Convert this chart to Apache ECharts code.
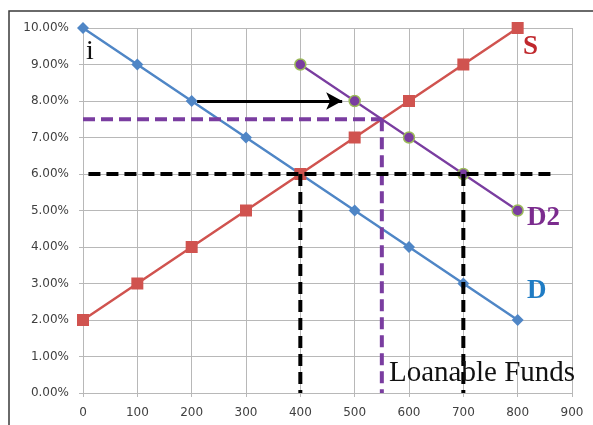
<!DOCTYPE html>
<html>
<head>
<meta charset="utf-8">
<script src="https://cdn.jsdelivr.net/npm/echarts@6/dist/echarts.min.js"></script>
<style>html,body{margin:0;padding:0;background:#fff;}#chart{width:593px;height:425px;}</style>
</head>
<body>
<div id="chart"></div>
<script>
// Data
var dX = [0, 100, 200, 300, 400, 500, 600, 700, 800];
var dY = [10, 9, 8, 7, 6, 5, 4, 3, 2];
var sX = [0, 100, 200, 300, 400, 500, 600, 700, 800];
var sY = [2, 3, 4, 5, 6, 7, 8, 9, 10];
var d2X = [400, 500, 600, 700, 800];
var d2Y = [9, 8, 7, 6, 5];
// Annotation guide lines
var blackH = [[10, 6], [862, 6]];
var blackV1 = [[400, 6], [400, 0]];
var blackV2 = [[700, 6], [700, 0]];
var purpleH = [[0, 7.5], [550, 7.5]];
var purpleV = [[550, 7.5], [550, 0]];
var arrowFrom = [210, 8];
var arrowTo = [477, 8];
var xTicks = [0, 900, 100];
var yTicks = [0, 10, 1];

function zip(xs, ys) { return xs.map(function (x, i) { return [x, ys[i]]; }); }

var chart = echarts.init(document.getElementById('chart'), null, {renderer: 'canvas'});
var axisFont = {fontFamily: 'DejaVu Sans', fontSize: 12, color: '#404040'};
var gridColor = '#B8B8B8';
var dash = [12, 6];

function dashed(data, color) {
  return {
    type: 'line', data: data, symbol: 'none', z: 5, silent: true,
    lineStyle: {color: color, width: 4, type: dash}
  };
}

chart.setOption({
  animation: false,
  grid: {left: 83, right: 21, top: 28, bottom: 32},
  xAxis: {
    type: 'value', min: xTicks[0], max: xTicks[1], interval: xTicks[2],
    axisLine: {show: true, lineStyle: {color: gridColor}},
    axisTick: {show: true, length: 4, lineStyle: {color: gridColor}},
    axisLabel: Object.assign({margin: 14}, axisFont),
    splitLine: {show: true, lineStyle: {color: gridColor}}
  },
  yAxis: {
    type: 'value', min: yTicks[0], max: yTicks[1], interval: yTicks[2],
    axisLine: {show: true, lineStyle: {color: gridColor}},
    axisTick: {show: true, length: 4, lineStyle: {color: gridColor}},
    axisLabel: Object.assign({margin: 14, formatter: function (v) { return v.toFixed(2) + '%'; }}, axisFont),
    splitLine: {show: true, lineStyle: {color: gridColor}}
  },
  graphic: [
    {type: 'rect', shape: {x: 9, y: 11, width: 700, height: 600}, style: {fill: 'none', stroke: '#3a3a3a', lineWidth: 1.5}, z: -10},
    {type: 'text', left: 86, top: 38, style: {text: 'i', font: '28px "Liberation Serif"', fill: '#111'}, z: 20},
    {type: 'text', left: 523, top: 34, style: {text: 'S', font: 'bold 27px "Liberation Serif"', fill: '#C0282D'}, z: 20},
    {type: 'text', left: 527, top: 205, style: {text: 'D2', font: 'bold 27px "Liberation Serif"', fill: '#7B2C8E'}, z: 20},
    {type: 'text', left: 527, top: 278, style: {text: 'D', font: 'bold 27px "Liberation Serif"', fill: '#1F7CC4'}, z: 20},
    {type: 'text', left: 389, top: 359, style: {text: 'Loanable Funds', font: '29px "Liberation Serif"', fill: '#111'}, z: 20}
  ],
  series: [
    {
      name: 'D', type: 'line', data: zip(dX, dY), z: 3,
      symbol: 'diamond', symbolSize: 12,
      lineStyle: {color: '#4F86C6', width: 2.5},
      itemStyle: {color: '#4F86C6'}
    },
    {
      name: 'S', type: 'line', data: zip(sX, sY), z: 3,
      symbol: 'rect', symbolSize: 12,
      lineStyle: {color: '#D0534F', width: 2.5},
      itemStyle: {color: '#D0534F'}
    },
    {
      name: 'D2', type: 'line', data: zip(d2X, d2Y), z: 4,
      symbol: 'circle', symbolSize: 11,
      lineStyle: {color: '#7A3DA0', width: 2.2},
      itemStyle: {color: '#7A3DA0', borderColor: '#9BBB59', borderWidth: 1.5}
    },
    dashed(purpleH, '#7A3DA0'),
    dashed(purpleV, '#7A3DA0'),
    dashed(blackH, '#000'),
    dashed(blackV1, '#000'),
    dashed(blackV2, '#000'),
    {
      type: 'line', data: [], z: 6, silent: true,
      markLine: {
        silent: true, animation: false,
        symbol: ['none', 'arrow'], symbolSize: [13, 16],
        label: {show: false},
        lineStyle: {color: '#000', width: 3, type: 'solid'},
        data: [[{coord: arrowFrom}, {coord: arrowTo}]]
      }
    }
  ]
});
</script>
</body>
</html>
